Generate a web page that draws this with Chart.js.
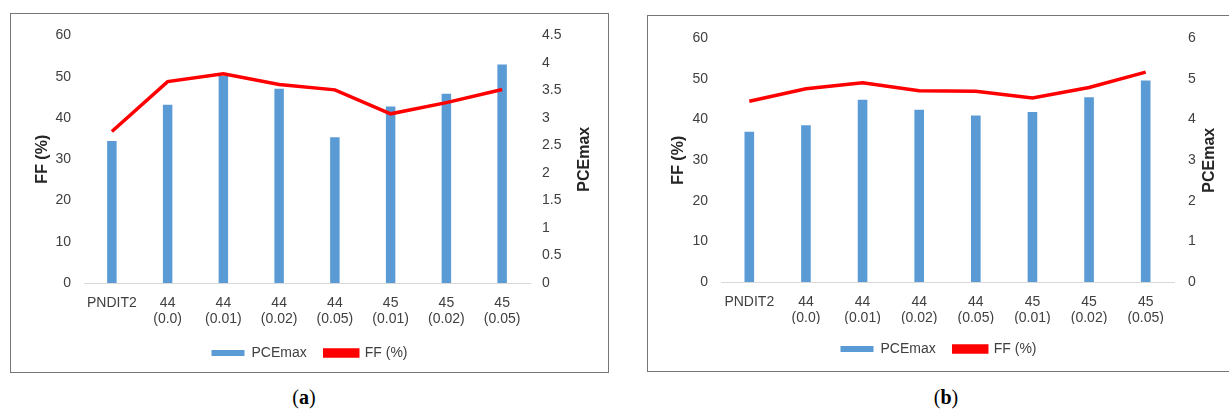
<!DOCTYPE html>
<html>
<head>
<meta charset="utf-8">
<script src="https://cdn.jsdelivr.net/npm/chart.js@4.4.1/dist/chart.umd.min.js"></script>
<style>
  body { margin: 0; background: #fff; width: 1229px; height: 420px; overflow: hidden; position: relative; }
  .box { position: absolute; border: 1px solid #767676; background: #fff; }
  .box canvas { display: block; }
  .cap { position: absolute; top: 386px; font: 20px "Liberation Serif", serif; color: #000; transform: translateX(-50%); }
  .cap b { font-weight: bold; }
</style>
</head>
<body>
<div class="box" id="boxA" style="left:10px; top:13px; width:597px; height:358px;">
  <canvas id="chartA" width="597" height="358"></canvas>
</div>
<div class="box" id="boxB" style="left:647px; top:15px; width:581px; height:355px;">
  <canvas id="chartB" width="581" height="355"></canvas>
</div>
<div class="cap" style="left:304px;">(<b>a</b>)</div>
<div class="cap" style="left:946px;">(<b>b</b>)</div>

<script>
// categories shared by both panels
const categories = ["PNDIT2", ["44", "(0.0)"], ["44", "(0.01)"], ["44", "(0.02)"],
    ["44", "(0.05)"], ["45", "(0.01)"], ["45", "(0.02)"], ["45", "(0.05)"]];

// panel (a)
const pceA = [2.58, 3.24, 3.76, 3.53, 2.65, 3.21, 3.44, 3.97];
const ffA = [36.7, 48.8, 50.7, 48.1, 46.8, 41.0, 43.7, 46.9];

// panel (b)
const pceB = [3.70, 3.86, 4.49, 4.24, 4.10, 4.19, 4.55, 4.96];
const ffB = [44.5, 47.6, 49.1, 47.1, 47.0, 45.3, 47.9, 51.7];

const FONT = "'Liberation Sans', Arial, sans-serif";

// rotated axis titles, both read bottom-to-top like the original
const axisTitles = {
    id: "axisTitles",
    afterDraw(chart, args, opts) {
        const ctx = chart.ctx;
        const area = chart.chartArea;
        const midY = (area.top + area.bottom) / 2;
        const draw = (text, x) => {
            ctx.save();
            ctx.font = "bold 16px " + FONT;
            ctx.fillStyle = "#262626";
            ctx.textAlign = "center";
            ctx.textBaseline = "middle";
            ctx.translate(x, midY);
            ctx.rotate(-Math.PI / 2);
            ctx.fillText(text, 0, 0);
            ctx.restore();
        };
        draw(opts.left, chart.scales.y.left + opts.leftX);
        draw(opts.right, chart.scales.y1.right - opts.rightX);
    }
};

function makeChart(id, pce, ff, pceMax, pceStep, g) {
    return new Chart(document.getElementById(id), {
        data: {
            labels: categories,
            datasets: [
                {
                    type: "bar",
                    label: "PCEmax",
                    data: pce,
                    yAxisID: "y1",
                    backgroundColor: "#5b9bd5",
                    categoryPercentage: 1,
                    barPercentage: 0.17,
                    order: 1
                },
                {
                    type: "line",
                    label: "FF (%)",
                    data: ff,
                    yAxisID: "y",
                    borderColor: "#ff0000",
                    backgroundColor: "#ff0000",
                    borderWidth: 3.5,
                    pointRadius: 0,
                    tension: 0,
                    order: 0
                }
            ]
        },
        options: {
            responsive: false,
            animation: false,
            layout: { padding: { top: g.top, left: 0, right: 0, bottom: g.bottom } },
            plugins: {
                tooltip: { enabled: false },
                legend: {
                    position: "bottom",
                    labels: {
                        boxWidth: 33,
                        boxHeight: 6,
                        padding: 18,
                        color: "#404040",
                        font: { family: FONT, size: 14 },
                        sort: (a, b) => a.datasetIndex - b.datasetIndex
                    }
                },
                axisTitles: { left: "FF (%)", right: "PCEmax", leftX: g.leftTitleX, rightX: g.rightTitleX }
            },
            scales: {
                x: {
                    offset: true,
                    grid: { display: false, drawTicks: false },
                    border: { display: true, color: "#d9d9d9", width: 1 },
                    ticks: {
                        color: "#404040",
                        padding: 12,
                        maxRotation: 0,
                        autoSkip: false,
                        font: { family: FONT, size: 14, lineHeight: 1.15 }
                    },
                    afterFit: s => { s.height = g.xHeight; }
                },
                y: {
                    position: "left",
                    min: 0,
                    max: 60,
                    grid: { display: false, drawTicks: false },
                    border: { display: false },
                    ticks: {
                        stepSize: 10,
                        padding: 13,
                        color: "#404040",
                        font: { family: FONT, size: 14 }
                    },
                    afterFit: s => { s.width = 73; }
                },
                y1: {
                    position: "right",
                    min: 0,
                    max: pceMax,
                    grid: { display: false, drawTicks: false },
                    border: { display: false },
                    ticks: {
                        stepSize: pceStep,
                        padding: g.rightPad,
                        color: "#404040",
                        font: { family: FONT, size: 14 },
                        callback: v => String(v)
                    },
                    afterFit: s => { s.width = g.rightW; }
                }
            }
        },
        plugins: [axisTitles]
    });
}

makeChart("chartA", pceA, ffA, 4.5, 0.5,
    { top: 18, bottom: 2, xHeight: 45, rightW: 78, rightPad: 12, leftTitleX: 32, rightTitleX: 23 });
makeChart("chartB", pceB, ffB, 6, 1,
    { top: 17, bottom: 5, xHeight: 42, rightW: 55, rightPad: 14, leftTitleX: 31, rightTitleX: 19 });
</script>
</body>
</html>
